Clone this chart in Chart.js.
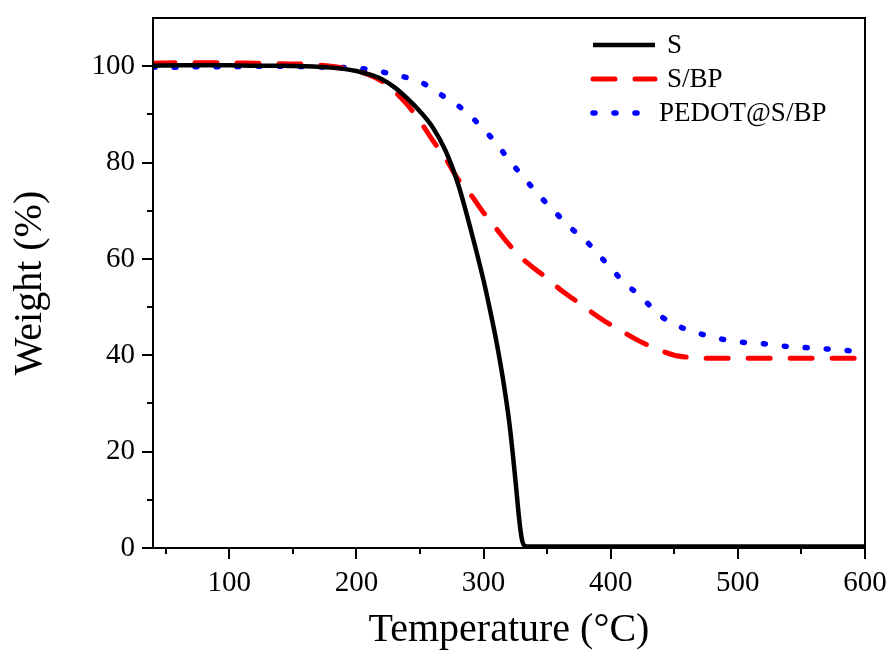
<!DOCTYPE html>
<html>
<head>
<meta charset="utf-8">
<script src="https://cdn.jsdelivr.net/npm/chart.js@4"></script>
<style>
  html, body { margin: 0; padding: 0; background: #fff; }
  #wrap { width: 893px; height: 662px; }
</style>
</head>
<body>
<div id="wrap"><canvas id="tga"></canvas></div>
<script>
// TGA curves
const tempS = [40, 60, 80, 100, 120, 140, 160, 180, 200, 210, 220, 230, 240, 250, 260, 270, 280, 290, 300, 305, 310, 315, 320, 323, 326, 328, 330, 332, 335, 350, 400, 450, 500, 550, 600]
const weightS = [100.1, 100.2, 100.2, 100.2, 100.1, 100.1, 100.0, 99.7, 99.0, 98.3, 97.3, 95.6, 93.3, 90.6, 87.3, 82.5, 75.5, 66.0, 55.5, 49.5, 43.0, 35.5, 26.5, 19.5, 11.5, 6.0, 2.0, 0.5, 0.3, 0.3, 0.3, 0.3, 0.3, 0.3, 0.3]

const tempSBP = [40, 60, 80, 100, 120, 140, 160, 180, 200, 210, 220, 230, 240, 250, 260, 270, 280, 290, 300, 310, 320, 330, 340, 350, 360, 370, 380, 390, 400, 410, 420, 430, 440, 450, 460, 470, 480, 500, 550, 600]
const weightSBP = [100.6, 100.7, 100.7, 100.7, 100.6, 100.5, 100.4, 100.0, 99.0, 98.2, 96.9, 94.8, 92.0, 88.6, 84.6, 80.9, 76.5, 73.3, 69.6, 66.3, 63.0, 60.2, 58.0, 56.0, 53.7, 51.8, 49.9, 48.0, 46.3, 44.8, 43.3, 42.0, 40.9, 40.0, 39.6, 39.4, 39.4, 39.4, 39.4, 39.4]

const tempPEDOT = [40, 60, 80, 100, 120, 140, 160, 180, 200, 210, 220, 230, 240, 250, 260, 270, 280, 290, 300, 310, 320, 330, 340, 350, 360, 370, 380, 390, 400, 410, 420, 430, 440, 450, 460, 470, 480, 490, 500, 520, 540, 560, 580, 600]
const weightPEDOT = [99.8, 99.8, 99.9, 99.9, 100.0, 100.0, 99.9, 99.8, 99.6, 99.3, 98.8, 98.3, 97.6, 96.8, 95.2, 93.5, 91.8, 89.6, 86.9, 84.0, 80.5, 77.4, 74.3, 71.4, 68.7, 66.1, 63.9, 61.0, 58.2, 55.2, 53.0, 50.5, 48.0, 46.5, 45.3, 44.5, 43.8, 43.2, 42.8, 42.4, 41.8, 41.5, 41.1, 40.7]

const seriesLabels = ["S", "S/BP", "PEDOT@S/BP"]
const xTickValues = [50, 100, 150, 200, 250, 300, 350, 400, 450, 500, 550, 600]
const yTickValues = [0, 10, 20, 30, 40, 50, 60, 70, 80, 90, 100]

const serif = "'Liberation Serif', 'Times New Roman', serif"

function toPoints(xs, ys) {
  return xs.map((x, i) => ({ x: x, y: ys[i] }))
}

// frame box + outward major/minor ticks
const axisDecor = {
  id: "axisDecor",
  afterDraw(chart) {
    const { ctx, chartArea: a, scales } = chart
    const x = scales.x, y = scales.y
    ctx.save()
    ctx.strokeStyle = "#000"
    ctx.lineWidth = 2
    ctx.strokeRect(a.left, a.top, a.right - a.left, a.bottom - a.top)
    x.ticks.forEach((t) => {
      const px = Math.round(x.getPixelForValue(t.value))
      const len = t.value % 100 === 0 ? 11 : 6
      ctx.beginPath()
      ctx.moveTo(px, a.bottom)
      ctx.lineTo(px, a.bottom + len)
      ctx.stroke()
    })
    y.ticks.forEach((t) => {
      const py = Math.round(y.getPixelForValue(t.value))
      const len = t.value % 20 === 0 ? 11 : 6
      ctx.beginPath()
      ctx.moveTo(a.left, py)
      ctx.lineTo(a.left - len, py)
      ctx.stroke()
    })
    ctx.restore()
  },
}

// legend in the upper right corner of the plot
const cornerLegend = {
  id: "cornerLegend",
  afterDraw(chart) {
    const ctx = chart.ctx
    const x0 = 593, lineLen = 62, y0 = 45, rowGap = 34
    ctx.save()
    chart.data.datasets.forEach((ds, i) => {
      const yy = y0 + i * rowGap
      ctx.strokeStyle = ds.borderColor
      ctx.lineWidth = ds.borderWidth
      ctx.lineCap = ds.borderCapStyle || "butt"
      ctx.setLineDash(ds.borderDash || [])
      ctx.beginPath()
      ctx.moveTo(x0, yy)
      ctx.lineTo(x0 + lineLen, yy)
      ctx.stroke()
      ctx.setLineDash([])
      ctx.fillStyle = "#000"
      ctx.font = "27px " + serif
      ctx.textBaseline = "middle"
      ctx.fillText(ds.label, i === 2 ? x0 + 66 : x0 + 74, yy + 1)
    })
    ctx.restore()
  },
}

const ctx = document.getElementById("tga").getContext("2d")
new Chart(ctx, {
  type: "scatter",
  data: {
    datasets: [
      {
        label: seriesLabels[0],
        data: toPoints(tempS, weightS),
        borderColor: "#000000",
        borderWidth: 4.5,
      },
      {
        label: seriesLabels[1],
        data: toPoints(tempSBP, weightSBP),
        borderColor: "#ff0000",
        borderWidth: 5,
        borderDash: [22, 20],
        borderCapStyle: "round",
      },
      {
        label: seriesLabels[2],
        data: toPoints(tempPEDOT, weightPEDOT),
        borderColor: "#0000ff",
        borderWidth: 5.5,
        borderDash: [2, 19],
        borderCapStyle: "round",
      },
    ],
  },
  options: {
    responsive: true,
    maintainAspectRatio: false,
    animation: false,
    showLine: true,
    elements: {
      point: { radius: 0, hoverRadius: 0 },
      line: { cubicInterpolationMode: "monotone", fill: false },
    },
    layout: { padding: { top: 18, right: 28, left: 0, bottom: 0 } },
    plugins: {
      legend: { display: false },
      tooltip: { enabled: false },
    },
    scales: {
      x: {
        type: "linear",
        min: 40,
        max: 600,
        afterBuildTicks: (s) => { s.ticks = xTickValues.map((v) => ({ value: v })) },
        afterFit: (s) => {
          s.height = 114
          s.paddingLeft = 0
          s.paddingRight = 0
        },
        border: { display: false },
        grid: { drawOnChartArea: false, tickLength: 11, tickColor: "rgba(0,0,0,0)" },
        ticks: {
          autoSkip: false,
          maxRotation: 0,
          padding: 7,
          color: "#000",
          font: { family: serif, size: 29 },
          callback: (v) => (v % 100 === 0 ? String(v) : ""),
        },
        title: {
          display: true,
          text: "Temperature (°C)",
          color: "#000",
          font: { family: serif, size: 40, lineHeight: 1 },
          padding: { top: 0, bottom: 12 },
        },
      },
      y: {
        min: 0,
        max: 110,
        afterBuildTicks: (s) => { s.ticks = yTickValues.map((v) => ({ value: v })) },
        afterFit: (s) => {
          s.width = 153
          s.paddingTop = 0
          s.paddingBottom = 0
        },
        border: { display: false },
        grid: { drawOnChartArea: false, tickLength: 11, tickColor: "rgba(0,0,0,0)" },
        ticks: {
          autoSkip: false,
          padding: 7,
          color: "#000",
          font: { family: serif, size: 29 },
          callback: (v) => (v % 20 === 0 ? String(v) : ""),
        },
        title: {
          display: true,
          text: "Weight (%)",
          color: "#000",
          font: { family: serif, size: 40, lineHeight: 1 },
          padding: { top: 10, bottom: 0 },
        },
      },
    },
  },
  plugins: [axisDecor, cornerLegend],
})
</script>
</body>
</html>
